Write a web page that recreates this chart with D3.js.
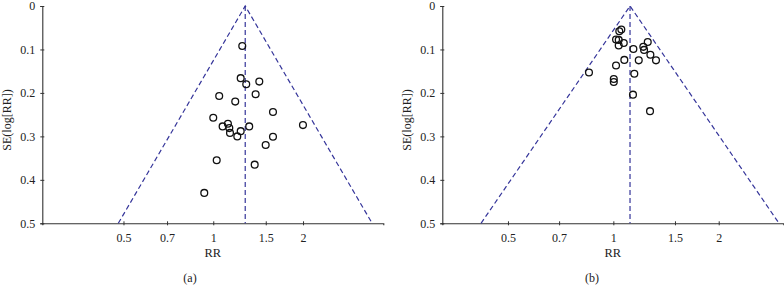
<!DOCTYPE html>
<html>
<head>
<meta charset="utf-8">
<script src="https://cdn.jsdelivr.net/npm/d3@7"></script>
<style>
	body { margin: 0; background: #fff; }
	svg { display: block; font-family: "Liberation Serif", "DejaVu Serif", serif; }
	.tick text { font-size: 12px; fill: #222; }
	.domain, .tick line { stroke: #333; }
</style>
</head>
<body>
<svg width="784" height="298"></svg>
<script>
// tick values on the RR axis
var rrTicks = [0.5, 0.7, 1, 1.5, 2],
	seTicks = [0, 0.1, 0.2, 0.3, 0.4, 0.5];

// panel (a)
var rrA = [1.251, 1.236, 1.290, 1.427, 1.047, 1.387, 1.185, 1.586, 1.000, 1.120, 1.075,
	1.132, 1.138, 1.236, 1.204, 1.320, 1.999, 1.586, 1.499, 1.027, 1.377, 0.933];
var seA = [0.092, 0.166, 0.180, 0.174, 0.207, 0.203, 0.220, 0.244, 0.257, 0.271, 0.277,
	0.281, 0.292, 0.288, 0.300, 0.277, 0.274, 0.301, 0.320, 0.355, 0.365, 0.430];
var pooledA = 1.28;

// panel (b)
var rrB = [1.054, 1.040, 1.018, 1.036, 1.071, 1.036, 1.254, 1.218, 1.224, 1.141, 1.276,
	1.324, 1.182, 1.075, 1.018, 0.852, 1.148, 1.003, 1.003, 1.138, 1.273];
var seB = [0.054, 0.058, 0.077, 0.078, 0.085, 0.091, 0.083, 0.094, 0.101, 0.099, 0.112,
	0.125, 0.125, 0.124, 0.137, 0.153, 0.156, 0.168, 0.175, 0.204, 0.242];
var pooledB = 1.116;

var panels = [
	{ rr: rrA, se: seA, pooled: pooledA, domain: [Math.exp(-1.32), Math.exp(1.313)], x0: 42.3, cap: "(a)", capX: 190 },
	{ rr: rrB, se: seB, pooled: pooledB, domain: [Math.exp(-1.125), Math.exp(1.118)], x0: 442.3, cap: "(b)", capX: 592 }
];

var svg = d3.select("svg"),
	plotW = 341,
	plotTop = 6,
	plotBottom = 223.3,
	dashCol = "#35359a",
	serif = "'Liberation Serif', 'DejaVu Serif', serif";

var y = d3.scaleLinear().domain([0, 0.5]).range([plotTop, plotBottom]);

panels.forEach(function(p) {
	var x = d3.scaleLog().domain(p.domain).range([p.x0, p.x0 + plotW]);
	var g = svg.append("g");

	// axes
	var xAxis = g.append("g")
		.attr("transform", "translate(0," + plotBottom + ")")
		.call(d3.axisBottom(x).tickValues(rrTicks).tickFormat(d3.format("")).tickSizeOuter(0).tickSize(2).tickPadding(8));
	xAxis.selectAll(".tick line").attr("y1", -2).attr("y2", 2);

	var yAxis = g.append("g")
		.attr("transform", "translate(" + p.x0 + ",0)")
		.call(d3.axisLeft(y).tickValues(seTicks).tickFormat(d3.format("")).tickSizeOuter(0).tickSize(2).tickPadding(5));
	yAxis.selectAll(".tick line").attr("x1", -2).attr("x2", 2);
	g.selectAll(".domain").attr("stroke-width", 1.1);
	xAxis.attr("font-family", serif);
	yAxis.attr("font-family", serif);

	// funnel
	var lo = p.pooled * Math.exp(-1.96 * 0.5),
		hi = p.pooled * Math.exp(1.96 * 0.5);
	var funnel = [[lo, 0.5], [p.pooled, 0], [hi, 0.5]];
	g.append("path")
		.attr("d", d3.line().x(function(d) { return x(d[0]); }).y(function(d) { return y(d[1]); })(funnel))
		.attr("fill", "none")
		.attr("stroke", dashCol)
		.attr("stroke-width", 1.2)
		.attr("stroke-dasharray", "5,3");
	g.append("line")
		.attr("x1", x(p.pooled)).attr("x2", x(p.pooled))
		.attr("y1", y(0)).attr("y2", y(0.5))
		.attr("stroke", dashCol)
		.attr("stroke-width", 1.2)
		.attr("stroke-dasharray", "5,3");

	// studies
	g.selectAll("circle.pt")
		.data(p.rr)
		.enter().append("circle")
		.attr("class", "pt")
		.attr("cx", function(d) { return x(d); })
		.attr("cy", function(d, i) { return y(p.se[i]); })
		.attr("r", 3.4)
		.attr("fill", "none")
		.attr("stroke", "#111")
		.attr("stroke-width", 1.3);

	// labels
	g.append("text")
		.attr("x", p.x0 + plotW / 2)
		.attr("y", 257)
		.attr("text-anchor", "middle")
		.attr("font-size", 12.5)
		.attr("fill", "#222")
		.text("RR");
	g.append("text")
		.attr("transform", "translate(" + (p.x0 - 31.5) + ",120) rotate(-90)")
		.attr("text-anchor", "middle")
		.attr("font-size", 12)
		.attr("fill", "#222")
		.text("SE(log[RR])");
	g.append("text")
		.attr("x", p.capX)
		.attr("y", 282)
		.attr("text-anchor", "middle")
		.attr("font-size", 12)
		.attr("fill", "#222")
		.text(p.cap);
});
</script>
</body>
</html>
